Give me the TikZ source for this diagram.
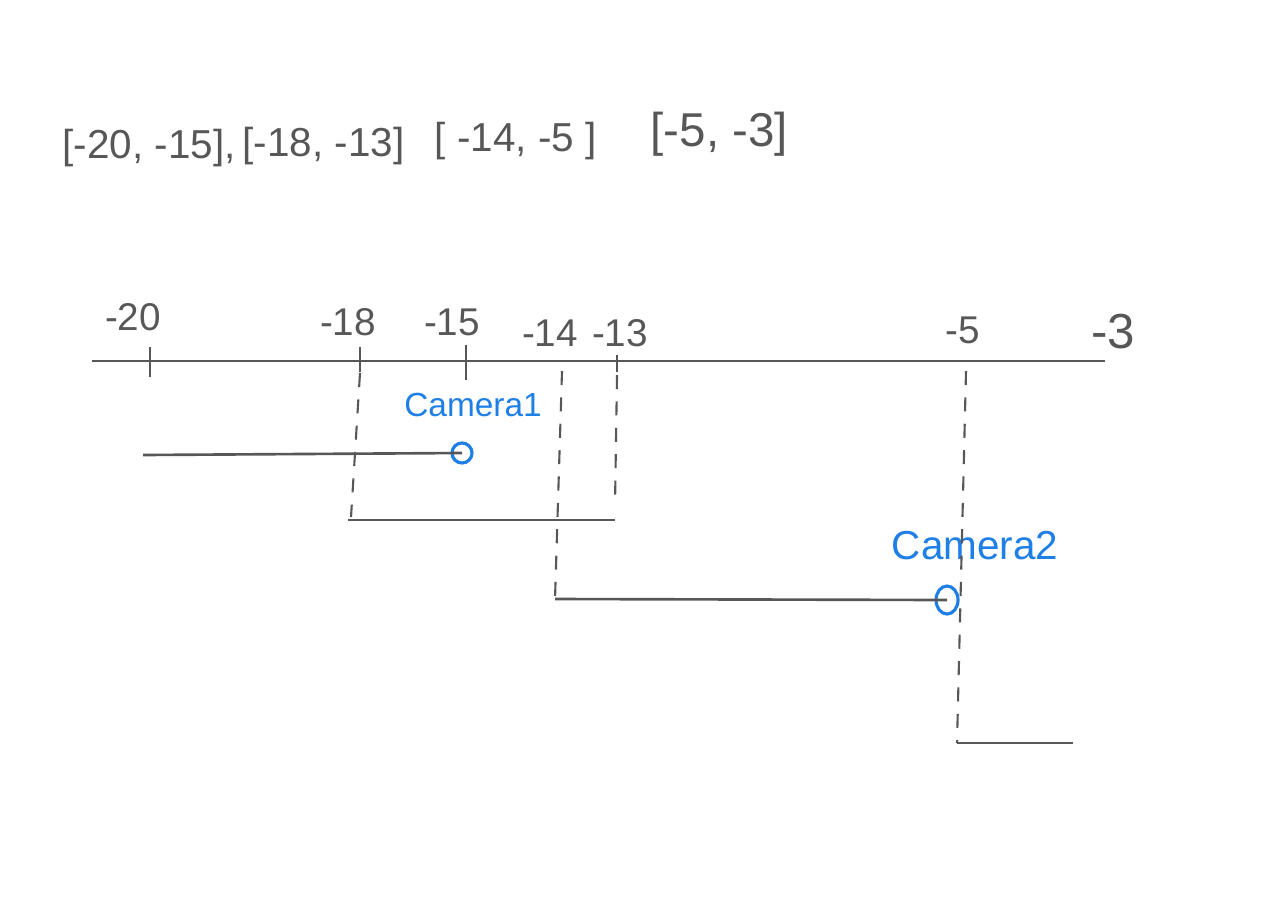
\documentclass[tikz,border=0pt]{standalone}
\usepackage{fontspec}
\setmainfont{Liberation Sans}
\usepackage{xcolor}
\usetikzlibrary{shapes.geometric}
\definecolor{sketchink}{HTML}{575757}
\definecolor{sketchblue}{HTML}{1E7FE6}

\begin{document}
\begin{tikzpicture}[
  x=0.01cm,
  y=-0.01cm,
  every node/.style={font=\normalsize, text=sketchink},
  axisline/.style={sketchink, line width=0.75pt},
  tickmark/.style={sketchink, line width=0.7pt},
  guide/.style={sketchink, line width=0.6pt, dash pattern=on 4pt off 3.5pt},
  interval/.style={font=\fontsize{11.5}{14}\selectfont, inner sep=0pt, anchor=west},
  ticklabel/.style={font=\fontsize{11}{13}\selectfont, inner sep=0pt},
  camlabel/.style={font=\fontsize{9.5}{12}\selectfont, text=sketchblue, inner sep=0pt},
  cammark/.style={draw=sketchblue, circle, line width=0.9pt, minimum size=0.2cm, inner sep=0pt}
]
  \useasboundingbox (0,0) rectangle (1280,918);

  % intervals written out
  \node[interval] (ivA) at (62,148) {[-20, -15],};
  \node[interval] (ivB) at (242,146) {[-18, -13]};
  \node[interval] (ivC) at (434,141) {[ -14, -5 ]};
  \node[interval, font=\fontsize{13.5}{16}\selectfont] (ivD) at (650,134) {[-5, -3]};

  % number line
  \coordinate (axL) at (92,361);
  \coordinate (axR) at (1105,361);
  \draw[axisline] (axL) -- (axR);

  \coordinate (t20) at (150,361);
  \coordinate (t18) at (360,361);
  \coordinate (t15) at (466,361);
  \coordinate (t14) at (562,361);
  \coordinate (t13) at (617,361);
  \coordinate (t5) at (966,361);

  \draw[tickmark] ([yshift=0.14cm]t20) -- ([yshift=-0.16cm]t20);
  \draw[tickmark] ([yshift=0.14cm]t18) -- ([yshift=-0.11cm]t18);
  \draw[tickmark] ([yshift=0.16cm]t15) -- ([yshift=-0.19cm]t15);
  \draw[tickmark] ([yshift=0.06cm]t13) -- ([yshift=-0.11cm]t13);

  \node[ticklabel] (l20) at (133,317) {-20};
  \node[ticklabel] (l18) at (348,322) {-18};
  \node[ticklabel] (l15) at (452,322) {-15};
  \node[ticklabel] (l14) at (550,333) {-14};
  \node[ticklabel] (l13) at (620,333) {-13};
  \node[ticklabel] (l5) at (963,330) {-5};
  \node[ticklabel, font=\fontsize{14}{17}\selectfont] (l3) at (1113,332) {-3};

  % intervals on the line
  \coordinate (aL) at (143,455);
  \node[cammark] (camA) at (462,453) {};
  \draw[axisline] (aL) -- (camA.center);
  \node[camlabel] (camAlbl) at (473,405) {Camera1};

  \coordinate (bL) at (348,520);
  \coordinate (bR) at (615,520);
  \draw[axisline] (bL) -- (bR);

  \coordinate (cL) at (555,599);
  \node[cammark, minimum width=0.22cm, minimum height=0.28cm, ellipse] (camB) at (947,600) {};
  \draw[axisline] (cL) -- (camB.center);
  \node[camlabel, font=\fontsize{11.5}{14}\selectfont] (camBlbl) at (975,546) {Camera2};

  \coordinate (dL) at (957,743);
  \coordinate (dR) at (1073,743);
  \draw[axisline] (dL) -- (dR);

  % guides down from the ticks
  \draw[guide] ([yshift=-0.12cm]t18) -- ([yshift=0.03cm, xshift=0.03cm]bL);
  \draw[guide] ([yshift=-0.1cm]t14) -- (cL);
  \draw[guide] ([yshift=-0.14cm]t13) -- ([yshift=0.15cm]bR);
  \draw[guide] ([yshift=-0.1cm]t5) -- (dL);
\end{tikzpicture}
\end{document}
